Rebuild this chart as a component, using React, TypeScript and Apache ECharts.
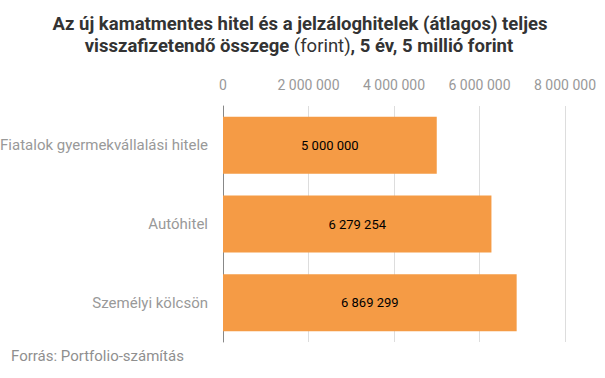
import React, { useEffect, useRef } from "react";
import * as echarts from "echarts";

const categories = ["Fiatalok gyermekvállalási hitele", "Autóhitel", "Személyi kölcsön"];
const values = [5000000, 6279254, 6869299];
const titleLine1 = "Az új kamatmentes hitel és a jelzáloghitelek (átlagos) teljes";
const titleLine2a = "visszafizetendő összege ";
const titleLine2b = "(forint)";
const titleLine2c = ", 5 év, 5 millió forint";
const sourceText = "Forrás: Portfolio-számítás";

const fmt = (v: number) => String(Math.round(v)).replace(/\B(?=(\d{3})+(?!\d))/g, " ");

export default function App() {
  const ref = useRef<HTMLDivElement>(null);
  useEffect(() => {
    const chart = echarts.init(ref.current!, undefined, { renderer: "svg" });
    const titleScale = 1;
    const tf = 18.5;
    chart.setOption({
      animation: false,
      textStyle: { fontFamily: "Roboto" },
      graphic: [
        {
          type: "text",
          x: 300,
          y: 23.5,
          scaleX: titleScale,
          style: {
            text: titleLine1,
            fontFamily: "Roboto",
            fontSize: tf,
            fontWeight: "bold",
            fill: "#333333",
            align: "center",
            verticalAlign: "middle",
          },
        },
        {
          type: "text",
          x: 299,
          y: 45.5,
          scaleX: titleScale,
          style: {
            text: `{b|${titleLine2a}}{n|${titleLine2b}}{b|${titleLine2c}}`,
            align: "center",
            verticalAlign: "middle",
            rich: {
              b: { fontFamily: "Roboto", fontSize: tf, fontWeight: "bold", fill: "#333333", color: "#333333" },
              n: { fontFamily: "Roboto", fontSize: tf, fontWeight: "normal", fill: "#333333", color: "#333333" },
            },
          },
        },
        {
          type: "text",
          x: 11,
          y: 356,
          style: {
            text: sourceText,
            fontFamily: "Roboto",
            fontSize: 15,
            fill: "#8f8f8f",
            align: "left",
            verticalAlign: "middle",
          },
        },
      ],
      grid: { left: 223, right: 40, top: 106, bottom: 36, containLabel: false, outerBoundsMode: "none" },
      xAxis: {
        type: "value",
        position: "top",
        min: 0,
        max: 8000000,
        interval: 2000000,
        axisLine: { show: false },
        axisTick: { show: false },
        splitLine: { lineStyle: { color: "#dddddd", width: 1 } },
        axisLabel: { color: "#999999", fontSize: 14, margin: 14, formatter: (v: number) => fmt(v) },
      },
      yAxis: {
        type: "category",
        inverse: true,
        data: categories,
        axisLine: { show: true, lineStyle: { color: "#888888", width: 1 } },
        axisTick: { show: false },
        axisLabel: { color: "#999999", fontSize: 15, margin: 15 },
      },
      series: [
        {
          type: "bar",
          data: values,
          barCategoryGap: "27.5%",
          itemStyle: { color: "#F59B45" },
          label: {
            show: true,
            position: "inside",
            color: "#000000",
            fontSize: 13,
            formatter: (p: any) => fmt(p.value),
          },
        },
      ],
    });
    return () => chart.dispose();
  }, []);
  return <div ref={ref} style={{ width: 605, height: 378, position: "absolute", left: 0, top: 0 }} />;
}
